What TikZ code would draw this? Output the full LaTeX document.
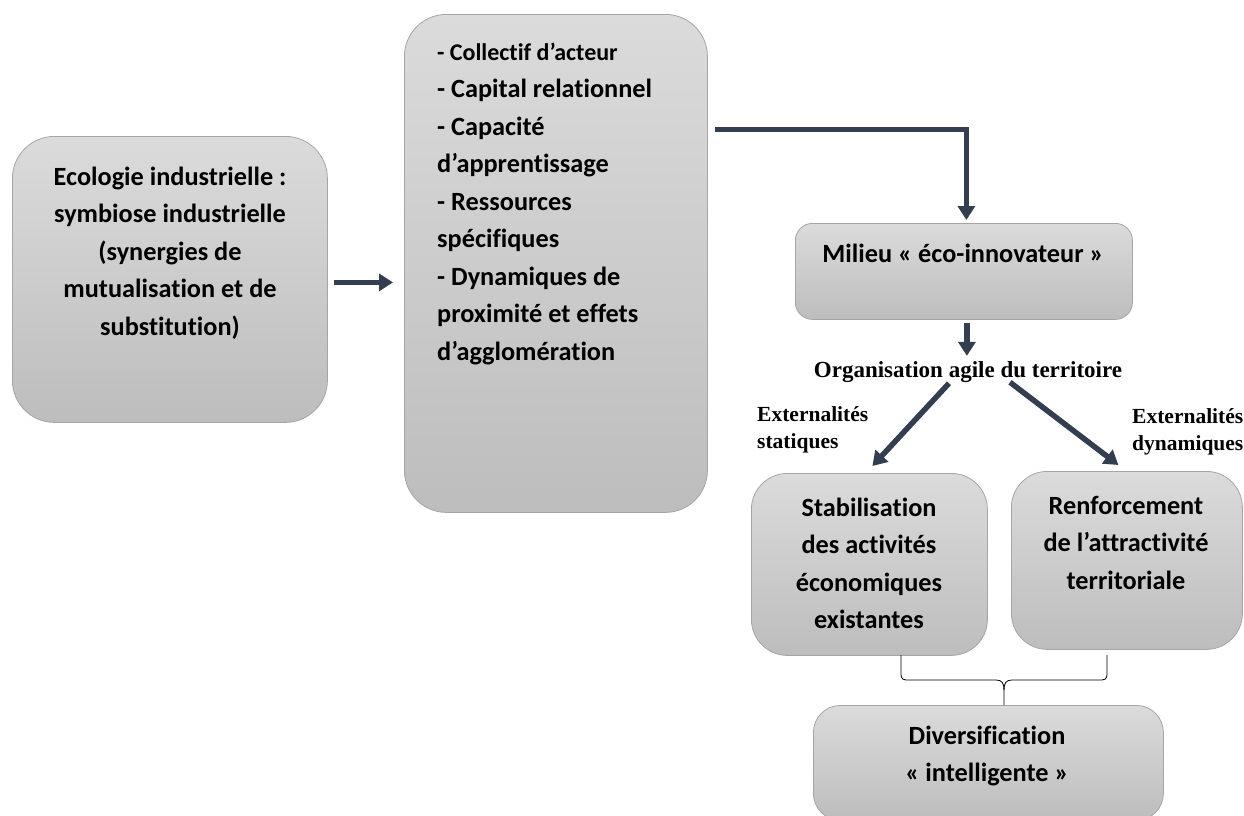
\documentclass[tikz,border=0pt]{standalone}
\usepackage{fontspec}
\setmainfont{Carlito}[Ligatures={NoCommon,NoRare,NoContextual}]
\newfontfamily\tnr{Liberation Serif}
\usetikzlibrary{arrows.meta}
\definecolor{boxtop}{RGB}{219,219,219}
\definecolor{boxbot}{RGB}{189,189,189}
\definecolor{boxline}{RGB}{165,165,165}
\definecolor{arr}{RGB}{51,63,80}
\begin{document}
\begin{tikzpicture}[x=1pt,y=-1pt,
  box/.style={draw=boxline, line width=0.8pt, top color=boxtop, bottom color=boxbot, anchor=north west, inner sep=0pt},
  big/.style={font=\bfseries\fontsize{26.3}{37.5}\selectfont, inner sep=0pt},
  lab/.style={font=\tnr\bfseries\fontsize{21.5}{27}\selectfont, inner sep=0pt},
  conn/.style={draw=arr, line width=5.5pt, -{Triangle[width=17pt,length=14pt]}},
  brace/.style={draw=black, line width=0.8pt}
]
\useasboundingbox (0,0) rectangle (1244,815);
\clip (0,0) rectangle (1244,815);

% boxes
\node[box, rounded corners=42pt, minimum width=315pt, minimum height=286pt] (A) at (12,136) {};
\node[box, rounded corners=42pt, minimum width=303pt, minimum height=498pt] (B) at (404,14) {};
\node[box, rounded corners=17pt, minimum width=337pt, minimum height=96pt] (M) at (795,223) {};
\node[box, rounded corners=36pt, minimum width=236pt, minimum height=182pt] (S) at (751,473) {};
\node[box, rounded corners=36pt, minimum width=231pt, minimum height=178pt] (R) at (1011,471) {};
\node[box, rounded corners=27pt, minimum width=350pt, minimum height=115pt] (D) at (813,705) {};

% texts (anchor=base is the baseline of the last line)
\node[big, align=center, anchor=base] (At) at (170,335)
  {Ecologie industrielle :\\symbiose industrielle\\(synergies de\\mutualisation et de\\substitution)};
\node[big, align=left, anchor=base west] (Bt) at (437,360)
  {{\fontsize{24}{35}\selectfont - Collectif d’acteur}\\- Capital relationnel\\- Capacité\\d’apprentissage\\- Ressources\\spécifiques\\- Dynamiques de\\proximité et effets\\d’agglomération};
\node[big, anchor=base] (Mt) at (963,262) {Milieu « éco-innovateur »};
\node[big, align=center, anchor=base] (St) at (869,628.5)
  {Stabilisation\\des activités\\économiques\\existantes};
\node[big, align=center, anchor=base] (Rt) at (1126,589)
  {Renforcement\\de l’attractivité\\territoriale};
\node[big, align=center, anchor=base] (Dt) at (987,781.5)
  {Diversification\\« intelligente »};
\node[lab, font=\tnr\bfseries\fontsize{23}{27}\selectfont, anchor=base] (org) at (968,377)
  {Organisation agile du territoire};
\node[lab, align=left, anchor=base west] (es) at (757,448) {Externalités\\statiques};
\node[lab, align=left, anchor=base west] (ed) at (1132,450) {Externalités\\dynamiques};

% connectors
\coordinate (a1) at ([xshift=6pt,yshift=-3pt]A.east);
\draw[conn, shorten >=11pt] (a1) -- (a1 -| B.west);
\coordinate (b1) at ([xshift=7pt,yshift=134pt]B.east);
\coordinate (m0) at ([xshift=2.5pt,yshift=3pt]M.north);
\draw[conn] (b1) -| (m0);
\coordinate (m1) at ([xshift=3pt,yshift=-3pt]M.south);
\draw[conn, shorten >=5pt] (m1) -- (m1 |- org.north);
\draw[conn] ([xshift=-19pt,yshift=-1pt]org.south) -- ([xshift=3pt,yshift=7pt]S.north);
\draw[conn] ([xshift=42pt]org.south) -- ([xshift=-8.5pt,yshift=6pt]R.north);

% brace
\coordinate (bl) at (901,655);
\coordinate (br) at (1107,655);
\coordinate (bt) at (1004,705);
\draw[brace] (bl) -- (901,673) .. controls (901,680) and (903,680) .. (910,680) -- (996,680)
  .. controls (1002,680) and (1004,683) .. (1004,690) -- (bt);
\draw[brace] (br) -- (1107,673) .. controls (1107,680) and (1105,680) .. (1098,680) -- (1012,680)
  .. controls (1006,680) and (1004,683) .. (1004,690);
\end{tikzpicture}
\end{document}
